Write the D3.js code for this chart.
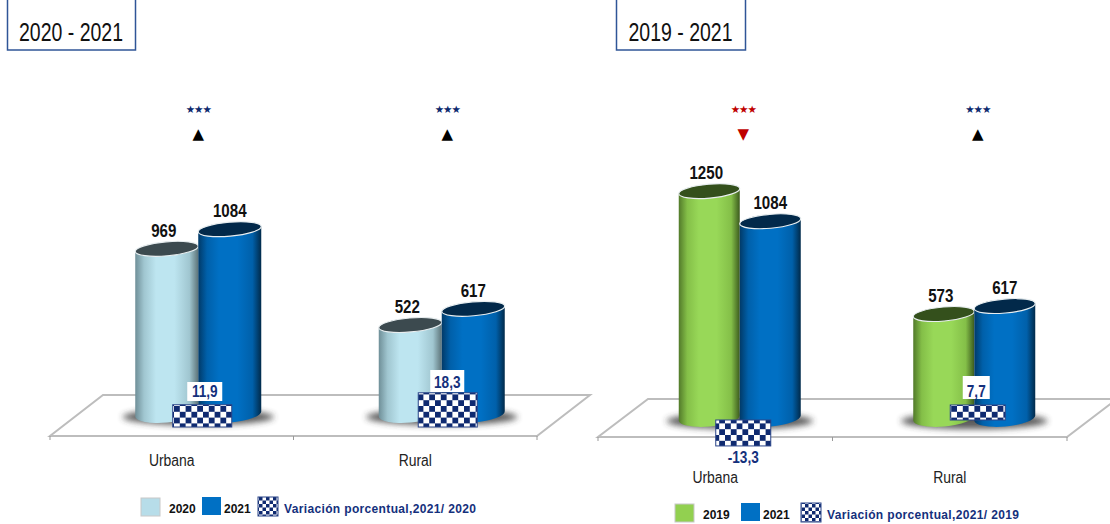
<!DOCTYPE html>
<html><head><meta charset="utf-8">
<script src="https://cdn.jsdelivr.net/npm/d3@7"></script>
<style>html,body{margin:0;padding:0;background:#fff}svg{display:block}
text{font-family:"Liberation Sans",Arial,sans-serif}</style></head>
<body><svg id="c" width="1110" height="524"></svg>
<script>
const categories = ["Urbana","Rural"];
const values2019 = [1250,573];
const values2020 = [969,522];
const values2021 = [1084,617];
const variation2120 = [11.9,18.3];
const variation2119 = [-13.3,7.7];
const variationLabels2120 = ["11,9","18,3"];
const variationLabels2119 = ["-13,3","7,7"];
const stars2120 = ["#0d2a6e","#0d2a6e"];
const stars2119 = ["#c00000","#0d2a6e"];
const arrows2120 = ["▲","▲"];
const arrows2119 = ["▼","▲"];
const arrowColors2120 = ["#000","#000"];
const arrowColors2119 = ["#c00000","#000"];

const svg = d3.select("#c");
const defs = svg.append("defs");
function grad(id,c){
  const g=defs.append("linearGradient").attr("id",id);
  [[0,c.edge],[.14,c.mid],[.33,c.base],[.62,c.base],[.86,c.mid],[1,c.edge2]].forEach(s=>g.append("stop").attr("offset",s[0]).attr("stop-color",s[1]));
}
const palette={
 light:{edge:"#6f8f98",mid:"#a0c6d0",base:"#bde5f0",edge2:"#5d7479",top:"#3c4a4f"},
 blue:{edge:"#013a68",mid:"#0060aa",base:"#0070c4",edge2:"#012a4a",top:"#02294a"},
 green:{edge:"#527a2a",mid:"#84bf48",base:"#98d858",edge2:"#3c5a1e",top:"#34501c"}
};
Object.keys(palette).forEach(k=>grad("g-"+k,palette[k]));
const blur=defs.append("filter").attr("id","bl").attr("x","-30%").attr("y","-80%").attr("width","160%").attr("height","260%");
blur.append("feGaussianBlur").attr("stdDeviation",3);
function checker(id,s){
  const p=defs.append("pattern").attr("id",id).attr("width",2*s).attr("height",2*s).attr("patternUnits","userSpaceOnUse");
  p.append("rect").attr("width",2*s).attr("height",2*s).attr("fill","#fff");
  p.append("rect").attr("width",s).attr("height",s).attr("fill","#0f2a70");
  p.append("rect").attr("x",s).attr("y",s).attr("width",s).attr("height",s).attr("fill","#0f2a70");
}
checker("chk",5.8); checker("chk2",3.5);

function narrow(g,x,y,sx,str){
  return g.append("text").attr("transform",`translate(${x},${y}) scale(${sx},1)`).attr("text-anchor","middle").text(str);
}
const DEG=-5, TILT=Math.abs(DEG)*Math.PI/180;

function panel(o){
  const g=svg.append("g");
  g.append("rect").attr("x",o.box[0]+.5).attr("y",-1).attr("width",o.box[1]-o.box[0]).attr("height",51).attr("fill","#fff").attr("stroke","#2f5597").attr("stroke-width",1.5);
  narrow(g,(o.box[0]+o.box[1])/2,41,.75,o.title).attr("font-size",26).attr("fill","#111");
  const [x0,x1]=o.floor, d=o.depth, yF=o.yFront, yB=o.yBack;
  g.append("path").attr("d",`M${x0},${yF}L${x1},${yF}L${x1+d},${yB}L${x0+d},${yB}Z`).attr("fill","#fff").attr("stroke","#bdbdbd").attr("stroke-width",2);
  const xCat=d3.scaleBand().domain(categories).range([x0,x1]);
  [x0,(x0+x1)/2,x1].forEach(x=>g.append("line").attr("x1",x).attr("x2",x).attr("y1",yF).attr("y2",yF+4).attr("stroke","#999"));
  categories.forEach(c=>narrow(g,xCat(c)+xCat.bandwidth()/2,o.catY,.87,c).attr("font-size",16).attr("fill","#222"));
  const y=d3.scaleLinear().domain([0,1000]).range([o.y0,o.y0-o.k*1000]);
  const W=o.w;
  const xS=d3.scaleBand().domain(["a","b"]).range([0,2*W]);
  const rx=W/2/Math.cos(TILT), ryT=7, ryB=8.5, dy=W/2*Math.tan(TILT);
  categories.forEach((c,i)=>{
    const left=xCat(c)+xCat.bandwidth()/2+o.offset-W;
    const cg=g.append("g");
    cg.append("ellipse").attr("cx",left+W).attr("cy",o.y0+3).attr("rx",W*1.2).attr("ry",8).attr("fill","#333").attr("opacity",.8).attr("filter","url(#bl)");
    [["a",o.s1,-3],["b",o.s2,0]].forEach(([k,s,ldx])=>{
      const v=s.values[i], xl=left+xS(k), t=y(v), b=y(0), cx=xl+W/2, p=palette[s.key];
      cg.append("path").attr("d",`M${xl},${t+dy}L${xl},${b+dy}A${rx},${ryB} ${DEG} 0 0 ${xl+W},${b-dy}L${xl+W},${t-dy}Z`).attr("fill",`url(#g-${s.key})`);
      cg.append("ellipse").attr("transform",`translate(${cx},${t}) rotate(${DEG})`).attr("rx",rx).attr("ry",ryT).attr("fill",p.top).attr("stroke","#e8eef0").attr("stroke-width",1.2);
      narrow(cg,cx+ldx,t-12,.84,d3.format("d")(v)).attr("font-size",18).attr("font-weight","bold").attr("fill","#111");
    });
  });
  const yV=d3.scaleLinear().domain([0,10]).range([o.vBase,o.vBase-o.vk*10]);
  categories.forEach((c,i)=>{
    const v=o.variation[i], bc=xCat(c)+xCat.bandwidth()/2, cx=bc+o.vDx[i], vw=o.vw;
    const top=Math.min(yV(v),yV(0)), h=Math.abs(yV(v)-yV(0));
    g.append("rect").attr("x",cx-vw/2).attr("y",top).attr("width",vw).attr("height",h).attr("fill","url(#chk)").attr("stroke","#2a4488").attr("stroke-width",1);
    const lx=cx+o.vLabelDx[i], bx=o.vBox[i];
    if(bx) g.append("rect").attr("x",lx-bx[0]/2).attr("y",bx[1]).attr("width",bx[0]).attr("height",bx[2]).attr("fill","#fff");
    narrow(g,lx,o.vLabelY[i],.8,o.varLabels[i]).attr("font-size",17).attr("font-weight","bold").attr("fill","#14307c");
    const sx=bc+o.starDx[i];
    g.append("text").attr("x",sx).attr("y",113).attr("text-anchor","middle").style("font-family","'DejaVu Sans'").attr("font-size",10.5).attr("font-weight","bold").attr("letter-spacing",-1).attr("fill",o.starC[i]).text("★★★");
    g.append("text").attr("x",sx).attr("y",138.5).attr("text-anchor","middle").style("font-family","'DejaVu Sans'").attr("font-size",15).attr("fill",o.arrowC[i]).text(o.arrows[i]);
  });
  const L=o.legend, ly=L.y;
  const lt=(x,t,fill,sp)=>g.append("text").attr("x",x).attr("y",ly+16).attr("font-size",12).attr("font-weight","bold").attr("letter-spacing",sp||0).attr("fill",fill).text(t);
  g.append("rect").attr("x",L.a).attr("y",ly+1).attr("width",19).attr("height",18).attr("fill",L.ac).attr("stroke","#c8c8c8");
  lt(L.a+28,L.at,"#111");
  g.append("rect").attr("x",L.b).attr("y",ly).attr("width",19).attr("height",18).attr("fill","#0070c4");
  lt(L.b+22,"2021","#111");
  g.append("rect").attr("x",L.c).attr("y",ly).attr("width",20).attr("height",19).attr("fill","url(#chk2)").attr("stroke","#2a4488");
  lt(L.c+26,L.ct,"#14307c",.35);
}

panel({title:"2020 - 2021",box:[7,135],floor:[50,537],depth:53,yFront:436,yBack:395,catY:466,
  y0:414,k:.1705,w:63,offset:26.5,vBase:427,vk:1.87,vw:59,vDx:[30.5,32.5],vLabelDx:[2.5,-.5],starDx:[26.5,32],vLabelY:[397,388],
  vBox:[[35,382,19],[34,370,22]],
  s1:{key:"light",values:values2020},s2:{key:"blue",values:values2021},
  variation:variation2120,varLabels:variationLabels2120,starC:stars2120,arrows:arrows2120,arrowC:arrowColors2120,
  legend:{y:497,a:141,ac:"#b7dde9",at:"2020",b:202,c:258,ct:"Variación porcentual,2021/ 2020"}});
panel({title:"2019 - 2021",box:[616,745],floor:[598,1067],depth:50,yFront:437,yBack:399,catY:483,
  y0:418,k:.1815,w:61,offset:24.5,vBase:420,vk:1.95,vw:55,vDx:[28,28],vLabelDx:[0,-1.5],starDx:[28,28],vLabelY:[463,397],
  vBox:[null,[27,376,23]],
  s1:{key:"green",values:values2019},s2:{key:"blue",values:values2021},
  variation:variation2119,varLabels:variationLabels2119,starC:stars2119,arrows:arrows2119,arrowC:arrowColors2119,
  legend:{y:503,a:675,ac:"#92d050",at:"2019",b:741,c:801,ct:"Variación porcentual,2021/ 2019"}});
</script></body></html>
